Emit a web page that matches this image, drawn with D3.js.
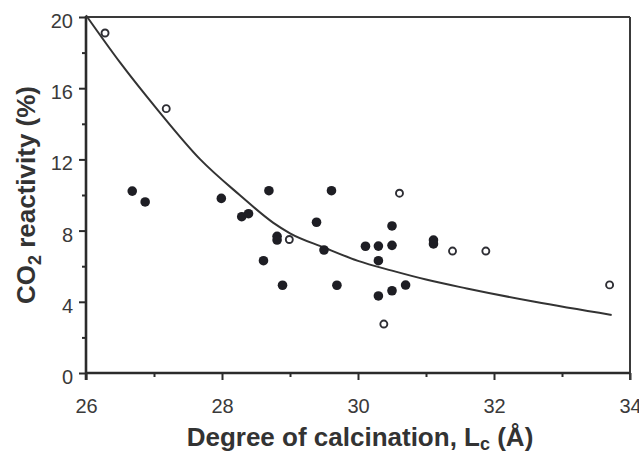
<!DOCTYPE html>
<html>
<head>
<meta charset="utf-8">
<script src="https://cdn.jsdelivr.net/npm/d3@7"></script>
<style>
  html, body { margin: 0; padding: 0; background: #fff; }
  svg { display: block; }
  text { font-family: "Liberation Sans", Arial, Helvetica, sans-serif; }
</style>
</head>
<body>
<svg id="chart" width="639" height="454"></svg>
<script>
// Open symbols: crystallite size L_c (Å) vs CO2 reactivity (%)
const openX = [26.28, 27.18, 28.99, 30.61, 30.38, 31.39, 31.88, 33.70];
const openY = [19.1, 14.85, 7.5, 10.1, 2.75, 6.85, 6.85, 4.95];

// Filled symbols
const filledX = [26.68, 26.87, 27.99, 28.29, 28.39, 28.69, 29.61, 29.39, 28.81, 28.81, 28.61, 28.89,
                 29.50, 29.69, 30.11, 30.30, 30.50, 30.50, 30.30, 30.30, 30.50, 30.70, 31.11, 31.11];
const filledY = [10.22, 9.61, 9.81, 8.78, 8.95, 10.24, 10.24, 8.47, 7.68, 7.47, 6.31, 4.93,
                 6.91, 4.93, 7.12, 7.13, 7.17, 8.26, 6.31, 4.33, 4.62, 4.94, 7.47, 7.25];

// Fitted trend curve, sampled along its length
const curveX = [26.0, 26.5, 27.05, 27.68, 28.26, 28.75, 29.0, 29.5, 30.0, 30.5, 31.0, 31.6, 32.6, 33.73];
const curveY = [20.1, 17.45, 14.8, 12.0, 10.0, 8.45, 7.85, 7.05, 6.3, 5.75, 5.25, 4.75, 4.0, 3.26];

// Axis ticks
const xTicks = [26, 28, 30, 32, 34];
const xMinor = [27, 29, 31, 33];
const yTicks = [0, 4, 8, 12, 16, 20];
const yMinor = [2, 6, 10, 14, 18];

const svg = d3.select("#chart");
const ink = "#2b2b2b";

const x = d3.scaleLinear().domain([26, 34]).range([86, 630]);
const y = d3.scaleLinear().domain([0, 20]).range([373, 17]);

svg.append("rect").attr("width", 639).attr("height", 454).attr("fill", "#fff");

// Minor ticks
svg.append("g").attr("transform", `translate(0,${y(0)})`)
  .call(d3.axisBottom(x).tickValues(xMinor).tickSize(4).tickSizeOuter(0).tickFormat(""))
  .call(g => g.select(".domain").remove())
  .call(g => g.selectAll("line").attr("stroke", ink).attr("stroke-width", 2));
svg.append("g").attr("transform", `translate(${x(26)},0)`)
  .call(d3.axisLeft(y).tickValues(yMinor).tickSize(4).tickSizeOuter(0).tickFormat(""))
  .call(g => g.select(".domain").remove())
  .call(g => g.selectAll("line").attr("stroke", ink).attr("stroke-width", 2));

// Major ticks and labels
svg.append("g").attr("transform", `translate(0,${y(0)})`)
  .call(d3.axisBottom(x).tickValues(xTicks).tickSize(7).tickSizeOuter(0).tickPadding(19).tickFormat(d3.format("d")))
  .call(g => g.select(".domain").remove())
  .call(g => g.selectAll("line").attr("stroke", ink).attr("stroke-width", 2))
  .call(g => g.selectAll("text").attr("font-size", 20).attr("fill", "#3a3a3a")
    .attr("font-family", "'Liberation Sans', Arial, sans-serif"));
svg.append("g").attr("transform", `translate(${x(26)},0)`)
  .call(d3.axisLeft(y).tickValues(yTicks).tickSize(7).tickSizeOuter(0).tickPadding(6).tickFormat(d3.format("d")))
  .call(g => g.select(".domain").remove())
  .call(g => g.selectAll("line").attr("stroke", ink).attr("stroke-width", 2))
  .call(g => g.selectAll("text").attr("font-size", 20).attr("fill", "#3a3a3a").attr("dy", "0.52em")
    .attr("font-family", "'Liberation Sans', Arial, sans-serif"));

// Frame
svg.append("line").attr("x1", x(26)).attr("x2", x(34)).attr("y1", y(20)).attr("y2", y(20))
  .attr("stroke", "#3a3a3a").attr("stroke-width", 2);
svg.append("line").attr("x1", x(34)).attr("x2", x(34)).attr("y1", y(20)).attr("y2", y(0) + 7)
  .attr("stroke", "#3a3a3a").attr("stroke-width", 2);
svg.append("line").attr("x1", x(26)).attr("x2", x(34)).attr("y1", y(0)).attr("y2", y(0))
  .attr("stroke", ink).attr("stroke-width", 2.6);
svg.append("line").attr("x1", x(26)).attr("x2", x(26)).attr("y1", y(20) - 1).attr("y2", y(0) + 7)
  .attr("stroke", ink).attr("stroke-width", 2.6);

// Trend curve
const curvePts = curveX.map((d, i) => [d, curveY[i]]);
svg.append("path")
  .datum(curvePts)
  .attr("fill", "none")
  .attr("stroke", "#333")
  .attr("stroke-width", 2)
  .attr("d", d3.line().x(d => x(d[0])).y(d => y(d[1])).curve(d3.curveMonotoneX));

// Filled markers
svg.append("g").selectAll("circle")
  .data(filledX.map((d, i) => [d, filledY[i]]))
  .join("circle")
  .attr("cx", d => x(d[0])).attr("cy", d => y(d[1]))
  .attr("r", 4.8).attr("fill", "#1e1e24");

// Open markers
svg.append("g").selectAll("circle")
  .data(openX.map((d, i) => [d, openY[i]]))
  .join("circle")
  .attr("cx", d => x(d[0])).attr("cy", d => y(d[1]))
  .attr("r", 3.5).attr("fill", "#fff").attr("stroke", "#2e2e34").attr("stroke-width", 1.9);

// Axis titles
const xt = svg.append("text")
  .attr("x", 360).attr("y", 446)
  .attr("text-anchor", "middle")
  .attr("font-size", 26).attr("font-weight", "bold").attr("fill", "#333");
xt.append("tspan").text("Degree of calcination, L");
xt.append("tspan").attr("font-size", 18).attr("dy", 4).text("c");
xt.append("tspan").attr("dy", -4).text(" (Å)");

const yt = svg.append("text")
  .attr("transform", "translate(35,195) rotate(-90)")
  .attr("text-anchor", "middle")
  .attr("font-size", 26).attr("font-weight", "bold").attr("fill", "#333");
yt.append("tspan").text("CO");
yt.append("tspan").attr("font-size", 18).attr("dy", 6).text("2");
yt.append("tspan").attr("dy", -6).text(" reactivity (%)");
</script>
</body>
</html>
